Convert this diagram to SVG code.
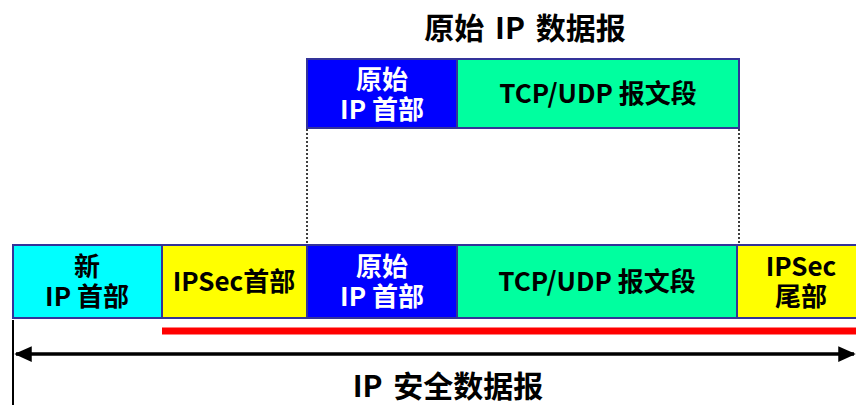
<svg xmlns="http://www.w3.org/2000/svg" width="856" height="405" viewBox="0 0 856 405">
<style>
.box{stroke:#333399;stroke-width:2}
.t{font-family:"Noto Sans CJK SC","Liberation Sans",sans-serif;font-weight:bold;font-size:26px;text-anchor:middle;fill:#000}
.big{font-size:30px;word-spacing:4px}
.w{fill:#fff}
.dot{stroke:#000;stroke-width:1.5;stroke-dasharray:2 2;fill:none}
</style>
<defs>
<marker id="ah" viewBox="0 0 10 10" refX="9" refY="5" markerWidth="5" markerHeight="4.5" orient="auto-start-reverse" markerUnits="strokeWidth" preserveAspectRatio="none">
<path d="M0,0 L10,5 L0,10 z" fill="#000"/>
</marker>
</defs>
<rect width="856" height="405" fill="#fff"/>
<text class="t big" x="525" y="39">原始 IP 数据报</text>
<g id="orig-ip-header">
<rect class="box" x="307" y="59" width="150" height="69" fill="#0000FF"/>
<text class="t w" x="382" y="89">原始<tspan x="382" dy="30">IP 首部</tspan></text>
</g>
<g id="orig-tcp">
<rect class="box" x="457" y="59" width="282" height="69" fill="#00FF9F"/>
<text class="t" x="598" y="103">TCP/UDP 报文段</text>
</g>
<g id="new-ip-header">
<rect class="box" x="13" y="245" width="149" height="73" fill="#00FFFF"/>
<text class="t" x="87" y="276">新<tspan x="87" dy="30">IP 首部</tspan></text>
</g>
<g id="ipsec-header">
<rect class="box" x="162" y="245" width="145" height="73" fill="#FFFF00"/>
<text class="t" x="234" y="291">IPSec首部</text>
</g>
<g id="inner-ip-header">
<rect class="box" x="307" y="245" width="150" height="73" fill="#0000FF"/>
<text class="t w" x="382" y="276">原始<tspan x="382" dy="30">IP 首部</tspan></text>
</g>
<g id="inner-tcp">
<rect class="box" x="457" y="245" width="280" height="73" fill="#00FF9F"/>
<text class="t" x="597" y="291">TCP/UDP 报文段</text>
</g>
<g id="ipsec-trailer">
<rect class="box" x="737" y="245" width="125" height="73" fill="#FFFF00"/>
<text class="t" x="801" y="276">IPSec<tspan x="801" dy="30">尾部</tspan></text>
</g>
<g id="connectors">
<line class="dot" x1="307" y1="129" x2="307" y2="244"/>
<line class="dot" x1="739" y1="129" x2="739" y2="244"/>
<line x1="162" y1="331" x2="856" y2="331" stroke="#FF0000" stroke-width="7"/>
<line x1="13" y1="320" x2="13" y2="405" stroke="#000" stroke-width="2"/>
<line x1="16" y1="354" x2="854" y2="354" stroke="#000" stroke-width="3.5" marker-start="url(#ah)" marker-end="url(#ah)"/>
</g>
<text class="t big" x="448" y="397">IP 安全数据报</text>
</svg>
